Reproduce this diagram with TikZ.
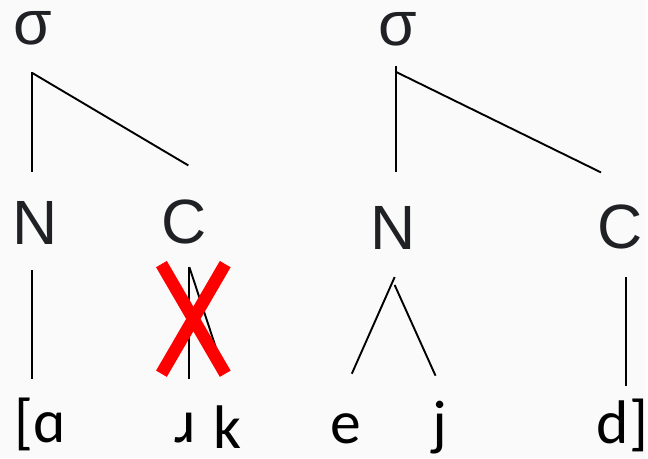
\documentclass[tikz,border=0pt]{standalone}
\usepackage{fontspec}
\setmainfont{Liberation Sans}
\newfontfamily\ipafont{Carlito}
\usepackage{tikz}
\usetikzlibrary{positioning, calc}
\definecolor{bgcol}{RGB}{250,250,250}
\definecolor{labelcol}{RGB}{32,33,36}

\begin{document}
\begin{tikzpicture}[x=1bp, y=-1bp,
  cat/.style={inner sep=0pt, anchor=base, text=labelcol, font=\fontsize{63}{63}\selectfont},
  seg/.style={inner sep=0pt, anchor=base, font=\ipafont\fontsize{62}{62}\selectfont},
  branch/.style={line width=1.9bp},
  cross/.style={red, line width=12.5bp}]
\fill[bgcol] (0,0) rectangle (648,460);

% first syllable
\node[cat] (sig1) at (32.5,45) {σ};
\node[cat] (nuc1) at (35.5,245) {N};
\node[cat] (cod1) at (184.5,244) {C};
\node[seg] (a) at (40,444) {[ɑ};
\node[seg] (r) at (186,444) {ɹ};
\node[seg] (k) at (228,450) {k};

% second syllable
\node[cat] (sig2) at (399,46) {σ};
\node[cat] (nuc2) at (394,250) {N};
\node[cat] (cod2) at (622,249) {C};
\node[seg] (e) at (346.5,445) {e};
\node[seg] (j) at (441,445) {j};
\node[seg] (d) at (624.5,445) {d]};

% branch ends
\coordinate (sig1b) at (32,72);
\coordinate (nuc1t) at (32,173);
\coordinate (cod1t) at (189,166);
\coordinate (nuc1b) at (32,271);
\coordinate (a-t) at (32,380);
\coordinate (cod1b) at (190,268);
\coordinate (r-t) at (190,380);
\coordinate (k-t) at (218,353);
\coordinate (sig2b) at (397,66);
\coordinate (nuc2t) at (397,173);
\coordinate (cod2t) at (603,173);
\coordinate (nuc2b) at (396,278);
\coordinate (e-t) at (353,375);
\coordinate (j-t) at (437,377);
\coordinate (cod2b) at (628,278);
\coordinate (d-t) at (628,387);

\draw[branch] (sig1b) -- (nuc1t);
\draw[branch] ($(sig1b)+(0,1)$) -- (cod1t);
\draw[branch] (nuc1b) -- (a-t);
\draw[branch] (cod1b) -- (r-t);
\draw[branch] (cod1b) -- (k-t);
\draw[branch] (sig2b) -- (nuc2t);
\draw[branch] ($(sig2b)+(0,6)$) -- (cod2t);
\draw[branch] (nuc2b) -- (e-t);
\draw[branch] ($(nuc2b)+(0,8)$) -- (j-t);
\draw[branch] (cod2b) -- (d-t);

% delinked coda
\coordinate (x1) at (162,265);
\coordinate (x2) at (226,375);
\coordinate (x3) at (226,265);
\coordinate (x4) at (162,375);
\draw[cross] (x1) -- (x2);
\draw[cross] (x3) -- (x4);
\end{tikzpicture}
\end{document}
